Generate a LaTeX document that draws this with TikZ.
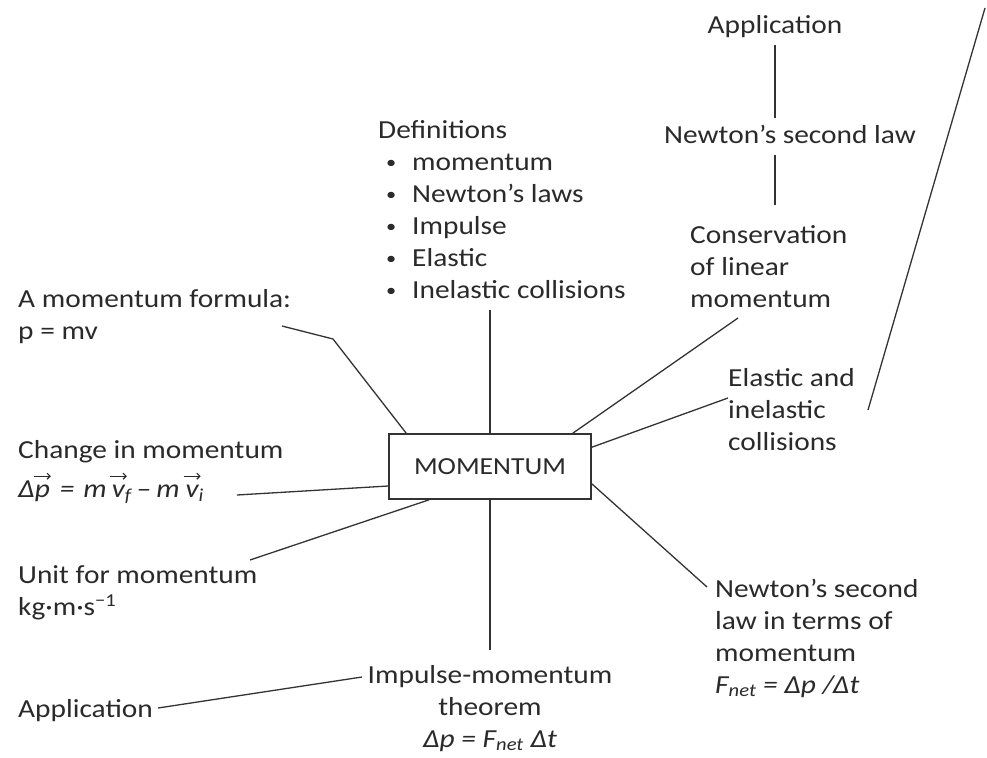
\documentclass[tikz,border=0pt]{standalone}
\usepackage{fontspec}
\usetikzlibrary{arrows.meta}
\setmainfont{Carlito}[FakeStretch=1.13]
\definecolor{txt}{HTML}{2A2A2A}
\definecolor{lin}{HTML}{333333}
\newcommand\fs{\rule{0pt}{20pt}}
\newcommand\bul[1]{\hspace*{8pt}\makebox[26pt][l]{\raisebox{1.5pt}{\fontsize{18}{18}\selectfont •}}#1}
\newcommand\arrbit{\tikz[x=1pt,y=1pt,baseline=0pt]\draw[draw=txt,line width=1.1pt,-{Straight Barb[length=3pt,width=6pt]}] (0,0)--(17,0);}
\newcommand\vecar[1]{\leavevmode\setbox0\hbox{#1}\rlap{\raisebox{21pt}{\makebox[\wd0]{\arrbit}}}\box0}
\begin{document}
\begin{tikzpicture}[x=1pt,y=-1pt,
  lbl/.style={inner sep=0pt, text=txt, font=\fontsize{26}{32}\selectfont},
  conn/.style={draw=lin, line width=1.3pt},
  ]
\useasboundingbox[fill=white] (0,0) rectangle (987,757);
\node[draw=lin, line width=1.5pt, minimum width=202pt, minimum height=65pt, inner sep=0pt,
      font=\fontsize{24.5}{30}\selectfont, text=txt] (box) at (490,466.5) {MOMENTUM};

\node[lbl, anchor=north] (app1) at (775,13) {\fs Application};
\node[lbl, anchor=north west] (nsl) at (664,123) {\fs Newton’s second law};
\node[lbl, anchor=north west, align=left] (cons) at (690,223) {\fs Conservation\\of linear\\momentum};
\node[lbl, anchor=north west, align=left] (defs) at (378,118)
  {\fs Definitions\\\bul{momentum}\\\bul{Newton’s laws}\\\bul{Impulse}\\\bul{Elastic}\\\bul{Inelastic collisions}};
\node[lbl, anchor=north west, align=left] (form) at (18,287) {\fs A momentum formula:\\p = mv};
\node[lbl, anchor=north west, align=left] (chg) at (18,438)
  {\fs Change in momentum\\[7pt]{\itshape Δ\vecar{p}\hspace{10pt}=\hspace{9pt}m\hspace{5pt}\vecar{v}\textsubscript{f}\hspace{5pt}–\hspace{5pt}m\hspace{6pt}\vecar{v}\textsubscript{i}}};
\node[lbl, anchor=north west, align=left] (unit) at (18,563) {\fs Unit for momentum\\kg·m·s\textsuperscript{−1}};
\node[lbl, anchor=north west] (app2) at (18,697) {\fs Application};
\node[lbl, anchor=north, align=center] (imp) at (490,663)
  {\fs Impulse-momentum\\theorem\\{\itshape Δp = F\textsubscript{net} Δt}};
\node[lbl, anchor=north west, align=left] (nsl2) at (715,577)
  {\fs Newton’s second\\law in terms of\\momentum\\{\itshape F\textsubscript{net} = Δp /Δt}};
\node[lbl, anchor=north west, align=left] (ela) at (728,366) {\fs Elastic and\\inelastic\\collisions};

\coordinate (a1) at (775,45);  \coordinate (a2) at (775,118);
\coordinate (n1) at (775,155); \coordinate (n2) at (775,205);
\coordinate (f1) at (282,326); \coordinate (f2) at (333,339);
\coordinate (d1) at (490,310);
\coordinate (c1) at (738,318);
\coordinate (e1) at (728,398);
\coordinate (l1) at (868,410); \coordinate (l2) at (985,8);
\coordinate (t1) at (707,587);
\coordinate (i1) at (490,650);
\coordinate (u1) at (250,560);
\coordinate (g1) at (237,495);
\coordinate (p1) at (158,708); \coordinate (p2) at (362,677);

\draw[conn] (a1) -- (a2);
\draw[conn] (n1) -- (n2);
\draw[conn] (f1) -- (f2) -- ([xshift=18pt]box.north west);
\draw[conn] (d1) -- (box.north);
\draw[conn] (c1) -- ([xshift=-19pt]box.north east);
\draw[conn] (e1) -- ([yshift=-14pt]box.north east);
\draw[conn] (l1) -- (l2);
\draw[conn] ([yshift=16pt]box.south east) -- (t1);
\draw[conn] (box.south) -- (i1);
\draw[conn] (u1) -- ([xshift=41pt]box.south west);
\draw[conn] (g1) -- ([yshift=-19.5pt]box.west);
\draw[conn] (p1) -- (p2);
\end{tikzpicture}
\end{document}
